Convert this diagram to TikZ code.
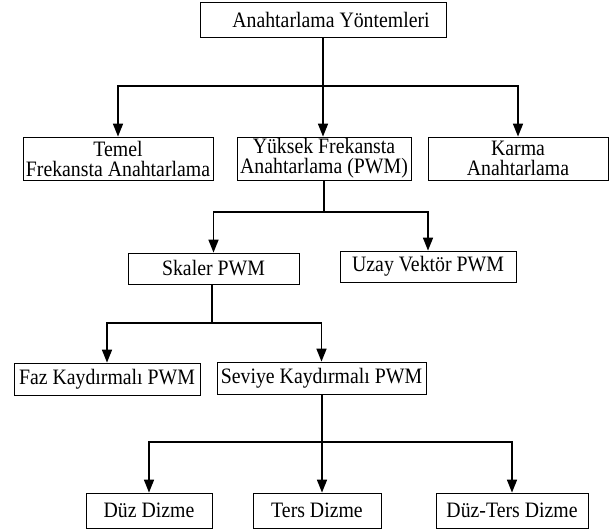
\documentclass[tikz,border=0pt]{standalone}
\usepackage{fontspec}
\setmainfont[FakeStretch=0.9]{Liberation Serif}
\usetikzlibrary{arrows.meta}
\begin{document}
\begin{tikzpicture}[x=1pt,y=-1pt,
  box/.style={draw=black,line width=0.8pt,inner sep=0pt,align=center,
    font=\fontsize{22}{20}\selectfont},
  conn/.style={line width=1.6pt},
  arr/.style={conn,-{Triangle[length=13pt,width=10pt]}}]
\useasboundingbox (0,0) rectangle (612,530);
\node[box,minimum width=246pt,minimum height=35pt] (top) at (323,19.5) {\hspace*{16pt}Anahtarlama Yöntemleri};
\node[box,minimum width=190pt,minimum height=43pt] (temel) at (118,158.5) {Temel\\Frekansta Anahtarlama};
\node[box,minimum width=174pt,minimum height=43pt] (yuksek) at (324,158.5) {Yüksek Frekansta\\Anahtarlama (PWM)};
\node[box,minimum width=180pt,minimum height=43pt] (karma) at (518,158.5) {Karma\\Anahtarlama};
\node[box,minimum width=171pt,minimum height=31pt] (skaler) at (213.5,268.5) {Skaler PWM};
\node[box,minimum width=176pt,minimum height=31pt] (uzay) at (428,266.5) {Uzay Vektör PWM};
\node[box,minimum width=186pt,minimum height=32pt] (faz) at (107,379) {Faz Kaydırmalı PWM};
\node[box,minimum width=209pt,minimum height=32pt] (seviye) at (321.5,378) {Seviye Kaydırmalı PWM};
\node[box,minimum width=126pt,minimum height=35pt] (duz) at (149,510.5) {Düz Dizme};
\node[box,minimum width=128pt,minimum height=35pt] (ters) at (317,510.5) {Ters Dizme};
\node[box,minimum width=152pt,minimum height=35pt] (duzters) at (512,510.5) {Düz-Ters Dizme};
\coordinate (b1) at (323,86);
\coordinate (b2) at (324,212);
\coordinate (b3) at (212,323);
\coordinate (b4) at (322,442);
\draw[conn] (top.south -| b1) -- (b1);
\draw[arr] (b1) -| (temel.north);
\draw[arr] (b1) -- (yuksek.north -| b1);
\draw[arr] (b1) -| (karma.north);
\draw[conn] (yuksek.south -| b2) -- (b2);
\draw[arr] (b2) -| (skaler.north);
\draw[arr] (b2) -| (uzay.north);
\draw[conn] (skaler.south -| b3) -- (b3);
\draw[arr] (b3) -| (faz.north);
\draw[arr] (b3) -| (seviye.north);
\draw[conn] (seviye.south -| b4) -- (b4);
\draw[arr] (b4) -| (duz.north);
\draw[arr] (b4) -- (ters.north -| b4);
\draw[arr] (b4) -| (duzters.north);
\end{tikzpicture}
\end{document}
